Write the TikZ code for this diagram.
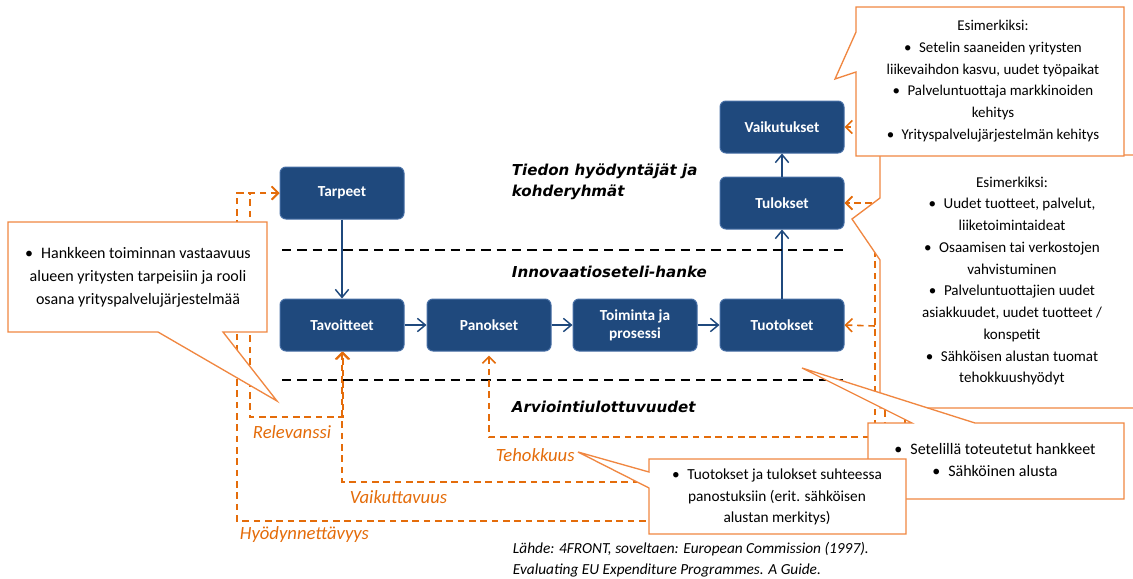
\documentclass[tikz,border=0pt]{standalone}
\usepackage{fontspec}
\setmainfont{Carlito}
\newfontfamily\titlefont{DejaVu Sans Bold Oblique}
\usetikzlibrary{arrows.meta}

\definecolor{boxblue}{RGB}{31,73,125}
\definecolor{boxedge}{RGB}{70,110,165}
\definecolor{evalorange}{RGB}{228,108,10}
\definecolor{calloutorange}{RGB}{240,135,65}

\tikzset{every picture/.style={line width=0.75pt}}
\tikzset{
  evaltip/.tip={Straight Barb[length=5pt,width=10pt,line width=1.2pt]},
  flowtip/.tip={Straight Barb[length=6pt,width=10pt]},
  stage/.style={draw=boxedge, fill=boxblue, rounded corners=4.5pt, minimum width=93pt, minimum height=39pt, text=white, align=center, font=\fontsize{11.5}{13.5}\selectfont\bfseries},
  flow/.style={draw=boxblue, line width=1.1pt, -flowtip},
  layer/.style={draw=black, line width=1.5pt, dash pattern=on 7pt off 4.5pt},
  evalline/.style={draw=evalorange, line width=1.2pt, dash pattern=on 5pt off 3.5pt},
  callout/.style={draw=calloutorange, fill=white, line width=1pt},
  callouttext/.style={align=center, font=\fontsize{11.5}{16.3}\selectfont},
  layertitle/.style={anchor=west, align=left, font=\titlefont\fontsize{11.3}{15.5}\selectfont},
  evallabel/.style={anchor=west, text=evalorange, font=\fontsize{14}{16}\selectfont\itshape},
}

\begin{document}
\begin{tikzpicture}[x=0.75pt,y=0.75pt,yscale=-1,xscale=1]
\useasboundingbox (0,0) rectangle (1133,579);

%Shape: Stages
\node[stage] (tarpeet) at (342,193) {Tarpeet};
\node[stage] (tavoitteet) at (342,325) {Tavoitteet};
\node[stage] (panokset) at (489,325) {Panokset};
\node[stage] (toiminta) at (635,325) {Toiminta ja\\prosessi};
\node[stage] (tuotokset) at (782,325) {Tuotokset};
\node[stage] (tulokset) at (782,203) {Tulokset};
\node[stage] (vaikutukset) at (782,127) {Vaikutukset};

%Straight Lines
\draw[flow] (tarpeet) -- (tavoitteet);
\draw[flow] (tavoitteet) -- (panokset);
\draw[flow] (panokset) -- (toiminta);
\draw[flow] (toiminta) -- (tuotokset);
\draw[flow] (tuotokset) -- (tulokset);
\draw[flow] (tulokset) -- (vaikutukset);

%Straight Lines (layers)
\coordinate (upperL) at (282,250);
\coordinate (upperR) at (848,250);
\coordinate (lowerL) at (282,380);
\coordinate (lowerR) at (848,380);
\draw[layer] (upperL) -- (upperR);
\draw[layer] (lowerL) -- (lowerR);

% Text Node
\node[layertitle] (users) at (507,182) {Tiedon hyödyntäjät ja\\kohderyhmät};
% Text Node
\node[layertitle] (project) at (507,272) {Innovaatioseteli-hanke};
% Text Node
\node[layertitle] (dimensions) at (507,407) {Arviointiulottuvuudet};

%Dashed Lines (evaluation)
\draw[evalline, evaltip-evaltip] (tarpeet.west) -| (250,417) -| ([xshift=0.75pt]tavoitteet.south);
\draw[evalline, evaltip-evaltip] (tarpeet.west) -| (237,521) -- (905,521) |- (vaikutukset.east);
\draw[evalline, evaltip-evaltip] (tavoitteet.south) |- (885,482) |- (tulokset.east);
\draw[evalline, evaltip-evaltip] ([yshift=3pt]panokset.south) |- (875,437) |- (tulokset.east);
\coordinate (tehoBranch) at (875,326);
\draw[evalline, -evaltip] (tehoBranch) -- (tuotokset.east);

% Text Node
\node[evallabel] (relevanssi) at (248,432) {Relevanssi};
% Text Node
\node[evallabel] (tehokkuus) at (491,455) {Tehokkuus};
% Text Node
\node[evallabel] (vaikuttavuus) at (345,497) {Vaikuttavuus};
% Text Node
\node[evallabel] (hyodyn) at (235,535) {Hyödynnettävyys};

%Shape: Callouts
\draw[callout] (880,155) -- (1145,155) -- (1145,408) -- (880,408) -- (880,260) -- (852,219) -- (880,198) -- cycle;
\node[callouttext, font=\fontsize{11.3}{16.3}\selectfont] (exampleB) at (1012,281) {Esimerkiksi:\\\textbullet\enspace Uudet tuotteet, palvelut,\\liiketoimintaideat\\\textbullet\enspace Osaamisen tai verkostojen\\vahvistuminen\\\textbullet\enspace Palveluntuottajien uudet\\asiakkuudet, uudet tuotteet /\\konspetit\\\textbullet\enspace Sähköisen alustan tuomat\\tehokkuushyödyt};

\draw[callout] (856,7) -- (1124,7) -- (1124,156) -- (856,156) -- (856,72) -- (835,79) -- (856,32) -- cycle;
\node[callouttext, font=\fontsize{11.2}{16.3}\selectfont] (exampleA) at (993,81) {Esimerkiksi:\\\textbullet\enspace Setelin saaneiden yritysten\\liikevaihdon kasvu, uudet työpaikat\\\textbullet\enspace Palveluntuottaja markkinoiden\\kehitys\\\textbullet\enspace Yrityspalvelujärjestelmän kehitys};

\draw[callout] (868,423) -- (912,423) -- (802,368) -- (975,423) -- (1124,423) -- (1124,499) -- (868,499) -- cycle;
\node[callouttext, font=\fontsize{12}{16.3}\selectfont] (setelinote) at (995,460) {\textbullet\enspace Setelillä toteutetut hankkeet\\\textbullet\enspace Sähköinen alusta};

\draw[callout] (649,459) -- (906,459) -- (906,534) -- (649,534) -- (649,488) -- (578,452) -- (649,472) -- cycle;
\node[callouttext] (outputnote) at (777,497) {\textbullet\enspace Tuotokset ja tulokset suhteessa\\panostuksiin (erit. sähköisen\\alustan merkitys)};

\draw[callout] (8,222) -- (267,222) -- (267,332) -- (223,332) -- (277,401) -- (158,332) -- (8,332) -- cycle;
\node[callouttext, font=\fontsize{12}{17.3}\selectfont] (relevancenote) at (138,277) {\textbullet\enspace Hankkeen toiminnan vastaavuus\\alueen yritysten tarpeisiin ja rooli\\osana yrityspalvelujärjestelmää};

% Text Node
\node[anchor=north west, align=left, font=\fontsize{11.5}{15.75}\selectfont\itshape] (source) at (508,537) {Lähde: 4FRONT, soveltaen: European Commission (1997).\\Evaluating EU Expenditure Programmes. A Guide.};

\end{tikzpicture}
\end{document}
